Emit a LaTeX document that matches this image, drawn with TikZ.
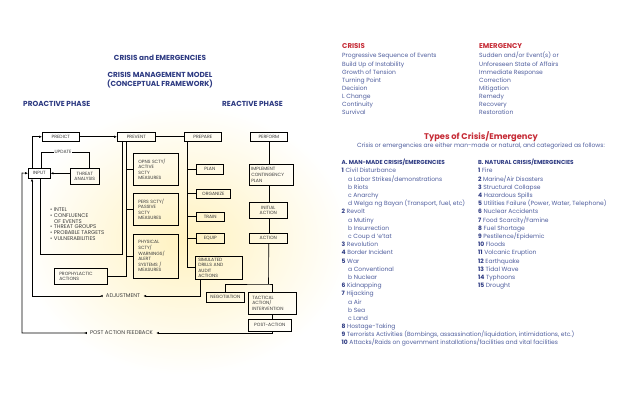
\documentclass[tikz,border=0pt]{standalone}
\usepackage{fontspec}
\setmainfont{Poppins}
\usetikzlibrary{arrows.meta,calc}
\definecolor{navy}{HTML}{2D3A82}
\definecolor{crimson}{HTML}{C62B36}
\definecolor{listc}{HTML}{4F5E9E}
\definecolor{boxtxt}{HTML}{3A3A3A}
\definecolor{glow}{RGB}{255,242,192}
\newcommand\bxf{\fontsize{4.6}{5.6}\selectfont}
\newcommand\blf{\fontsize{5.4}{5.7}\selectfont}
\newcommand\ttlf{\fontsize{7.3}{8}\selectfont\bfseries}
\newcommand\lstf{\fontsize{6}{8}\selectfont}
\newcommand\nb[1]{\textbf{\color{navy}#1}}
\begin{document}
\begin{tikzpicture}[x=1pt,y=-1pt,
  bx/.style={draw=black, line width=0.6pt, inner sep=0pt, font=\bxf, text=boxtxt, anchor=north west, align=center},
  lbx/.style={bx, align=left, inner xsep=5pt},
  lbl/.style={inner sep=0pt, font=\blf, text=boxtxt},
  conn/.style={line width=0.6pt, draw=black},
  arr/.style={conn, -{Latex[length=2.8pt,width=2.4pt]}},
  tip2/.style={conn, {Latex[reversed,length=2.8pt,width=2.4pt]}-{Latex[length=2.8pt,width=2.4pt]}},
  ttl/.style={inner sep=0pt, font=\ttlf, text=navy},
  lst/.style={inner sep=0pt, font=\lstf, text=listc, anchor=base west},
  hdr/.style={inner sep=0pt, font=\fontsize{7}{8}\selectfont\bfseries, text=crimson, anchor=base west},
  sub/.style={inner sep=0pt, font=\fontsize{5.75}{6.5}\selectfont\bfseries, text=navy, anchor=base west}
]
\fill[white] (0,0) rectangle (638,411);
\useasboundingbox (0,0) rectangle (638,411);
\shade[inner color=glow, outer color=white] (185,240) ellipse [x radius=165pt, y radius=135pt];

% titles
\node[ttl] (t1) at (160,58) {CRISIS and EMERGENCIES};
\node[ttl] (t2) at (160,75) {CRISIS MANAGEMENT MODEL};
\node[ttl] (t3) at (160,84) {(CONCEPTUAL FRAMEWORK)};
\node[ttl, anchor=west] (pro) at (23,104) {PROACTIVE PHASE};
\node[ttl, anchor=west] (rea) at (222,104) {REACTIVE PHASE};

% top row
\node[bx, minimum width=37pt, minimum height=9pt] (predict) at (42,132) {PREDICT};
\node[bx, minimum width=38pt, minimum height=9pt] (prevent) at (117,132) {PREVENT};
\node[bx, minimum width=37pt, minimum height=9pt] (prepare) at (184,132) {PREPARE};
\node[bx, minimum width=37pt, minimum height=9pt] (perform) at (250,132) {PERFORM};

% predict area
\node[bx, minimum width=22pt, minimum height=10pt] (input) at (28,168) {INPUT};
\node[bx, minimum width=29pt, minimum height=16pt] (threat) at (70,168) {THREAT\\ANALYSIS};
\node[lbl, font=\bxf] (upd) at (63,152) {UPDATE};
\node[lbl, anchor=base west] (bl1) at (50,211.8) {\textbullet\ INTEL};
\node[lbl, anchor=base west] (bl2) at (50,217.5) {\textbullet\ CONFLUENCE};
\node[lbl, anchor=base west] (bl3) at (54,223.2) {OF EVENTS};
\node[lbl, anchor=base west] (bl4) at (50,228.9) {\textbullet\ THREAT GROUPS};
\node[lbl, anchor=base west] (bl5) at (50,234.6) {\textbullet\ PROBABLE TARGETS};
\node[lbl, anchor=base west] (bl6) at (50,240.3) {\textbullet\ VULNERABILITIES};
\node[lbx, text width=43pt, minimum height=16pt] (proph) at (54,268) {PROPHYLACTIC\\ACTIONS};

% prevent column
\node[lbx, text width=35pt, minimum height=32pt] (opns) at (133,153) {OPNS SCTY/\\ACTIVE\\SCTY\\MEASURES};
\node[lbx, text width=35pt, minimum height=32pt] (pers) at (133,193) {PERS SCTY/\\PASSIVE\\SCTY\\MEASURES};
\node[lbx, text width=35pt, minimum height=44pt] (phys) at (133,234) {PHYSICAL\\SCTY/\\WARNINGS/\\ALERT\\SYSTEMS /\\MEASURES};

% prepare column
\node[bx, minimum width=27pt, minimum height=10pt] (plan) at (196,164) {PLAN};
\node[bx, minimum width=34pt, minimum height=9pt] (organize) at (196,189) {ORGANIZE};
\node[bx, minimum width=28pt, minimum height=9pt] (train) at (196,212) {TRAIN};
\node[bx, minimum width=28pt, minimum height=10pt] (equip) at (196,233) {EQUIP};
\node[lbx, inner xsep=3pt, text width=41pt, minimum height=23pt] (sim) at (195,256) {SIMULATED\\DRILLS AND\\AUDIT\\ACTIONS};

% perform column
\node[lbx, inner xsep=2pt, text width=40pt, minimum height=21pt] (impl) at (249,164) {IMPLEMENT\\CONTINGENCY\\PLAN};
\node[bx, minimum width=38pt, minimum height=16pt] (init) at (249,202) {INITIAL\\ACTION};
\node[bx, minimum width=38pt, minimum height=10pt] (action) at (249,233) {ACTION};
\node[bx, minimum width=38pt, minimum height=10pt] (neg) at (206,292) {NEGOTIATION};
\node[lbx, inner xsep=4pt, text width=40pt, minimum height=22pt] (tact) at (248,292) {TACTICAL\\ACTION/\\INTERVENTION};
\node[bx, minimum width=43pt, minimum height=12pt] (post) at (248,319) {POST-ACTION};

% feedback labels
\node[lbl, inner xsep=3pt] (adj) at (123,296) {ADJUSTMENT};
\node[lbl, inner xsep=3pt] (pafb) at (121.5,333) {POST ACTION FEEDBACK};

% coordinates
\coordinate (colB) at ($(prevent.south west)+(9,0)$);
\coordinate (colA) at ($(prevent.south west)+(5,0)$);
\coordinate (colC) at ($(prepare.south west)+(3,0)$);
\coordinate (brk) at (40.5,254);
\coordinate (split) at (268.5,284);
\coordinate (fbL) at (22,173);

% connectors top row
\draw[arr] ($(input.north west)+(4,0)$) |- (predict.west);
\draw[arr] (predict.east) -- (prevent.west);
\draw[conn] (prevent.east) -- (prepare.west);
\draw[arr] (threat.west |- input.east) -- (input.east);
\draw[conn] ($(threat.north)+(4.5,0)$) |- (upd.east);
\draw[conn] (upd.west) -| ($(input.north)+(1.5,0)$);

% prevent lines
\draw[conn] (colA) |- (brk) -- (brk |- input.south);
\draw[conn] (colB) |- (proph.east);
\draw[conn] (colB |- opns.west) -- (opns.west);
\draw[conn] (colB |- pers.west) -- (pers.west);
\draw[conn] (colB |- phys.west) -- (phys.west);

% prepare lines
\draw[conn] (colC) |- (sim.west);
\draw[conn] (colC |- plan.west) -- (plan.west);
\draw[conn] (colC |- organize.west) -- (organize.west);
\draw[conn] (colC |- train.west) -- (train.west);
\draw[conn] (colC |- equip.west) -- (equip.west);

% perform lines
\draw[conn] (perform.south) -- (perform.south |- impl.north);
\draw[conn] (perform.south |- impl.south) -- (perform.south |- init.north);
\draw[conn] (perform.south |- init.south) -- (perform.south |- action.north);
\draw[conn] (perform.south |- action.south) -- (split);
\draw[conn] (neg.north) |- (split) -| (tact.north);
\draw[conn] (tact.south) -- (tact.south |- post.north);

% feedback loops
\draw[arr] ($(sim.south west)+(5,0)$) |- (adj.east);
\draw[tip2] (adj.west) -| ($(input.south west)+(4,0)$);
\draw[arr] (tact.south |- post.south) |- (pafb.east);
\draw[tip2] (pafb.west) -| (fbL) -- (input.west);

% right side: crisis / emergency
\node[hdr] (crh) at (342,48.5) {CRISIS};
\node[hdr] (emh) at (479,48.5) {EMERGENCY};
\foreach \t [count=\i from 0] in {Progressive Sequence of Events,Build Up of Instability,Growth of Tension,Turning Point,Decision,L Change,Continuity,Survival}
  \node[lst] (c\i) at (342,{58+8.14*\i}) {\t};
\foreach \t [count=\i from 0] in {Sudden and/or Event(s) or,Unforeseen State of Affairs,Immediate Response,Correction,Mitigation,Remedy,Recovery,Restoration}
  \node[lst] (e\i) at (479,{58+8.14*\i}) {\t};

\node[inner sep=0pt, font=\fontsize{8.3}{10}\selectfont\bfseries, text=crimson] (types) at (481,137) {Types of Crisis/Emergency};
\node[lst, anchor=base] (intro) at (481,148) {Crisis or emergencies are either man-made or natural, and categorized as follows:};
\node[sub] (ha) at (341.5,165) {A. MAN-MADE CRISIS/EMERGENCIES};
\node[sub] (hb) at (478,165) {B. NATURAL CRISIS/EMERGENCIES};

\newcommand\litem[4]{\node[lst] (#1) at (#2,{173+8.19*#3}) {#4};}
\litem{a0}{341.5}{0}{\nb{1} Civil Disturbance}
\litem{a1}{348}{1}{a Labor Strikes/demonstrations}
\litem{a2}{348}{2}{b Riots}
\litem{a3}{348}{3}{c Anarchy}
\litem{a4}{348}{4}{d Welga ng Bayan (Transport, fuel, etc)}
\litem{a5}{341.5}{5}{\nb{2} Revolt}
\litem{a6}{348}{6}{a Mutiny}
\litem{a7}{348}{7}{b Insurrection}
\litem{a8}{348}{8}{c Coup d 'e'tat}
\litem{a9}{341.5}{9}{\nb{3} Revolution}
\litem{a10}{341.5}{10}{\nb{4} Border Incident}
\litem{a11}{341.5}{11}{\nb{5} War}
\litem{a12}{348}{12}{a Conventional}
\litem{a13}{348}{13}{b Nuclear}
\litem{a14}{341.5}{14}{\nb{6} Kidnapping}
\litem{a15}{341.5}{15}{\nb{7} Hijacking}
\litem{a16}{348}{16}{a Air}
\litem{a17}{348}{17}{b Sea}
\litem{a18}{348}{18}{c Land}
\litem{a19}{341.5}{19}{\nb{8} Hostage-Taking}
\litem{a20}{341.5}{20}{\nb{9} Terrorists Activities (Bombings, assassination/liquidation, intimidations, etc.)}
\litem{a21}{341.5}{21}{\nb{10} Attacks/Raids on government installations/facilities and vital facilities}

\litem{b0}{478}{0}{\nb{1} Fire}
\litem{b1}{478}{1}{\nb{2} Marine/Air Disasters}
\litem{b2}{478}{2}{\nb{3} Structural Collapse}
\litem{b3}{478}{3}{\nb{4} Hazardous Spills}
\litem{b4}{478}{4}{\nb{5} Utilities Failure (Power, Water, Telephone)}
\litem{b5}{478}{5}{\nb{6} Nuclear Accidents}
\litem{b6}{478}{6}{\nb{7} Food Scarcity/Famine}
\litem{b7}{478}{7}{\nb{8} Fuel Shortage}
\litem{b8}{478}{8}{\nb{9} Pestilence/Epidemic}
\litem{b9}{478}{9}{\nb{10} Floods}
\litem{b10}{478}{10}{\nb{11} Volcanic Eruption}
\litem{b11}{478}{11}{\nb{12} Earthquake}
\litem{b12}{478}{12}{\nb{13} Tidal Wave}
\litem{b13}{478}{13}{\nb{14} Typhoons}
\litem{b14}{478}{14}{\nb{15} Drought}
\end{tikzpicture}
\end{document}
